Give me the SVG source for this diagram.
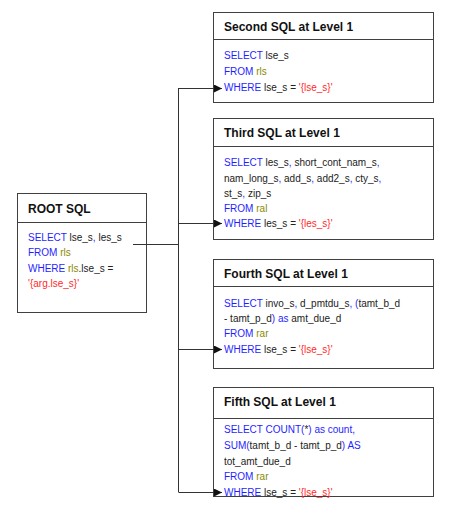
<svg xmlns="http://www.w3.org/2000/svg" width="450" height="514" viewBox="0 0 450 514">
<style>
.box{fill:#fff;stroke:#404040;stroke-width:1}
.sep{stroke:#404040;stroke-width:1}
.t{font-family:"Liberation Sans",Arial,sans-serif;font-size:12px;font-weight:bold;fill:#111}
.b{font-family:"Liberation Sans",Arial,sans-serif;font-size:10px;fill:#222}
.k{fill:#1f1fff}
.o{fill:#8a8a00}
.r{fill:#ff2a2a}
.c{fill:none;stroke:#333;stroke-width:1}
</style>
<defs>
<marker id="ah" viewBox="0 0 10 10" refX="10" refY="5" markerWidth="8" markerHeight="8" markerUnits="userSpaceOnUse" orient="auto">
<path d="M0,0 L10,5 L0,10 z" fill="#111"/>
</marker>
</defs>
<rect width="450" height="514" fill="#fff"/>
<g id="root">
<rect class="box" x="17.5" y="193.5" width="129" height="119"/>
<line class="sep" x1="17.5" y1="222.5" x2="146.5" y2="222.5"/>
<text class="t" x="28" y="213">ROOT SQL</text>
<text class="b" x="28" y="241"><tspan class="k">SELECT</tspan> lse_s<tspan class="k">,</tspan> les_s</text>
<text class="b" x="28" y="256"><tspan class="k">FROM</tspan> <tspan class="o">rls</tspan></text>
<text class="b" x="28" y="272"><tspan class="k">WHERE</tspan> <tspan class="o">rls</tspan>.lse_s =</text>
<text class="b" x="28" y="287"><tspan class="r">'{arg.lse_s}'</tspan></text>
</g>
<g id="second">
<rect class="box" x="213.5" y="12.5" width="220" height="90"/>
<line class="sep" x1="213.5" y1="39.5" x2="433.5" y2="39.5"/>
<text class="t" x="224" y="31">Second SQL at Level 1</text>
<text class="b" x="224" y="59"><tspan class="k">SELECT</tspan> lse_s</text>
<text class="b" x="224" y="75"><tspan class="k">FROM</tspan> <tspan class="o">rls</tspan></text>
<text class="b" x="224" y="91"><tspan class="k">WHERE</tspan> lse_s = <tspan class="r">'{lse_s}'</tspan></text>
</g>
<g id="third">
<rect class="box" x="213.5" y="118.5" width="220" height="121"/>
<line class="sep" x1="213.5" y1="146.5" x2="433.5" y2="146.5"/>
<text class="t" x="224" y="137">Third SQL at Level 1</text>
<text class="b" x="224" y="166"><tspan class="k">SELECT</tspan> les_s<tspan class="k">,</tspan> short_cont_nam_s<tspan class="k">,</tspan></text>
<text class="b" x="224" y="182">nam_long_s<tspan class="k">,</tspan> add_s<tspan class="k">,</tspan> add2_s<tspan class="k">,</tspan> cty_s<tspan class="k">,</tspan></text>
<text class="b" x="224" y="197">st_s<tspan class="k">,</tspan> zip_s</text>
<text class="b" x="224" y="212"><tspan class="k">FROM</tspan> <tspan class="o">ral</tspan></text>
<text class="b" x="224" y="227"><tspan class="k">WHERE</tspan> les_s = <tspan class="r">'{les_s}'</tspan></text>
</g>
<g id="fourth">
<rect class="box" x="213.5" y="259.5" width="220" height="109"/>
<line class="sep" x1="213.5" y1="286.5" x2="433.5" y2="286.5"/>
<text class="t" x="224" y="278">Fourth SQL at Level 1</text>
<text class="b" x="224" y="307"><tspan class="k">SELECT</tspan> invo_s<tspan class="k">,</tspan> d_pmtdu_s<tspan class="k">,</tspan> <tspan class="k">(</tspan>tamt_b_d</text>
<text class="b" x="224" y="322">- tamt_p_d<tspan class="k">) as</tspan> amt_due_d</text>
<text class="b" x="224" y="337"><tspan class="k">FROM</tspan> <tspan class="o">rar</tspan></text>
<text class="b" x="224" y="353"><tspan class="k">WHERE</tspan> lse_s = <tspan class="r">'{lse_s}'</tspan></text>
</g>
<g id="fifth">
<rect class="box" x="213.5" y="387.5" width="220" height="109"/>
<line class="sep" x1="213.5" y1="418.5" x2="433.5" y2="418.5"/>
<text class="t" x="224" y="406">Fifth SQL at Level 1</text>
<text class="b" x="224" y="433"><tspan class="k">SELECT COUNT(</tspan>*<tspan class="k">) as count,</tspan></text>
<text class="b" x="224" y="449"><tspan class="k">SUM(</tspan>tamt_b_d - tamt_p_d<tspan class="k">) AS</tspan></text>
<text class="b" x="224" y="465">tot_amt_due_d</text>
<text class="b" x="224" y="480"><tspan class="k">FROM</tspan> <tspan class="o">rar</tspan></text>
<text class="b" x="224" y="496"><tspan class="k">WHERE</tspan> lse_s = <tspan class="r">'{lse_s}'</tspan></text>
</g>
<g id="connectors">
<line class="c" x1="133" y1="244.5" x2="178.5" y2="244.5"/>
<line class="c" x1="178.5" y1="88" x2="178.5" y2="492"/>
<line class="c" x1="178.5" y1="88.5" x2="222" y2="88.5" marker-end="url(#ah)"/>
<line class="c" x1="178.5" y1="223.5" x2="222" y2="223.5" marker-end="url(#ah)"/>
<line class="c" x1="178.5" y1="349.5" x2="222" y2="349.5" marker-end="url(#ah)"/>
<line class="c" x1="178.5" y1="492.5" x2="222" y2="492.5" marker-end="url(#ah)"/>
</g>
</svg>
